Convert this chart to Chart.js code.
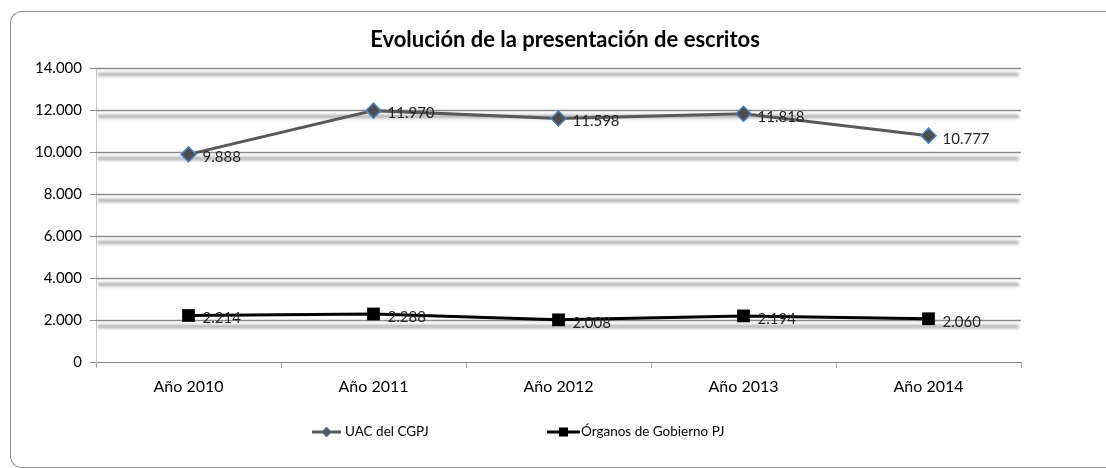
<!DOCTYPE html>
<html>
<head>
<meta charset="utf-8">
<script src="https://cdn.jsdelivr.net/npm/chart.js@4.4.1/dist/chart.umd.min.js"></script>
<style>
  body { margin: 0; background: #fff; }
  #wrap { position: relative; width: 1106px; height: 468px; overflow: hidden; }
  #marco { position: absolute; left: 10px; top: 11px; width: 1200px; height: 455px;
           border: 1px solid #8f8f8f; border-right: none; border-radius: 12px 0 0 12px; }
  canvas { position: absolute; left: 0; top: 0; }
</style>
</head>
<body>
<div id="wrap">
  <div id="marco"></div>
  <canvas id="grafico" width="1106" height="468"></canvas>
</div>
<script>
// datos del grafico
const anios = ['Año 2010', 'Año 2011', 'Año 2012', 'Año 2013', 'Año 2014'];
const uac = [9888, 11970, 11598, 11818, 10777];
const organos = [2214, 2288, 2008, 2194, 2060];
const ticksY = [0, 2000, 4000, 6000, 8000, 10000, 12000, 14000];
const titulo = 'Evolución de la presentación de escritos';

const fuente = 'Lato, "Open Sans", sans-serif';

// 14000 -> "14.000"
function fmt(v) {
  return String(v).replace(/\B(?=(\d{3})+(?!\d))/g, '.');
}

// titulo centrado como en Excel
const tituloPlugin = {
  id: 'tituloPlugin',
  afterDraw(chart) {
    const ctx = chart.ctx;
    ctx.save();
    ctx.font = 'bold 22px ' + fuente;
    ctx.fillStyle = '#000';
    ctx.textAlign = 'center';
    ctx.textBaseline = 'middle';
    ctx.fillText(titulo, 565, 40);
    ctx.restore();
  }
};

// lineas de division con sombra (estilo Excel)
const sombraGrid = {
  id: 'sombraGrid',
  beforeDatasetsDraw(chart) {
    const ctx = chart.ctx;
    const a = chart.chartArea;
    const y = chart.scales.y;
    ticksY.forEach(function (v) {
      if (v === 0) return;
      const py = Math.round(y.getPixelForValue(v)) + 0.5;
      ctx.save();
      ctx.filter = 'blur(1.6px)';
      ctx.strokeStyle = 'rgba(140,140,140,0.7)';
      ctx.lineWidth = 3.5;
      ctx.beginPath();
      ctx.moveTo(a.left + 2, py + 6);
      ctx.lineTo(a.right - 2, py + 6);
      ctx.stroke();
      ctx.restore();
      ctx.save();
      ctx.strokeStyle = '#8a8a8a';
      ctx.lineWidth = 1.5;
      ctx.beginPath();
      ctx.moveTo(a.left, py);
      ctx.lineTo(a.right, py);
      ctx.stroke();
      ctx.restore();
    });
  }
};

// etiquetas de datos a la derecha de cada punto
const etiquetas = {
  id: 'etiquetas',
  afterDatasetsDraw(chart) {
    const ctx = chart.ctx;
    ctx.save();
    ctx.font = '15px ' + fuente;
    ctx.fillStyle = '#262626';
    ctx.textAlign = 'left';
    ctx.textBaseline = 'middle';
    chart.data.datasets.forEach(function (ds, i) {
      chart.getDatasetMeta(i).data.forEach(function (pt, j) {
        ctx.fillText(fmt(ds.data[j]), pt.x + 14, pt.y + 3);
      });
    });
    ctx.restore();
  }
};

// leyenda: linea con marcador en medio
const leyenda = {
  id: 'leyenda',
  afterDraw(chart) {
    const ctx = chart.ctx;
    const ly = 432;
    ctx.save();
    // UAC del CGPJ
    ctx.strokeStyle = '#595959';
    ctx.lineWidth = 3;
    ctx.beginPath(); ctx.moveTo(312, ly); ctx.lineTo(341, ly); ctx.stroke();
    ctx.fillStyle = '#595959';
    ctx.strokeStyle = '#4f81bd';
    ctx.lineWidth = 1;
    ctx.beginPath();
    ctx.moveTo(326.5 - 5, ly); ctx.lineTo(326.5, ly - 5);
    ctx.lineTo(326.5 + 5, ly); ctx.lineTo(326.5, ly + 5);
    ctx.closePath(); ctx.fill(); ctx.stroke();
    // Organos de Gobierno PJ
    ctx.strokeStyle = '#000';
    ctx.lineWidth = 3;
    ctx.beginPath(); ctx.moveTo(547, ly); ctx.lineTo(580, ly); ctx.stroke();
    ctx.fillStyle = '#000';
    ctx.fillRect(563.5 - 4.5, ly - 4.5, 9, 9);

    ctx.font = '13.5px ' + fuente;
    ctx.fillStyle = '#000';
    ctx.textAlign = 'left';
    ctx.textBaseline = 'middle';
    ctx.fillText(chart.data.datasets[0].label, 345, ly);
    ctx.fillText(chart.data.datasets[1].label, 581, ly);
    ctx.restore();
  }
};

new Chart(document.getElementById('grafico'), {
  type: 'line',
  data: {
    labels: anios,
    datasets: [
      {
        label: 'UAC del CGPJ',
        data: uac,
        borderColor: '#595959',
        borderWidth: 3,
        pointStyle: 'rectRot',
        pointRadius: 7.5,
        pointBackgroundColor: '#4d4d4d',
        pointBorderColor: '#4f81bd',
        pointBorderWidth: 1.5,
        tension: 0
      },
      {
        label: 'Órganos de Gobierno PJ',
        data: organos,
        borderColor: '#000000',
        borderWidth: 3,
        pointStyle: 'rect',
        pointRadius: 9,
        pointBackgroundColor: '#000000',
        pointBorderColor: '#000000',
        pointBorderWidth: 0,
        tension: 0
      }
    ]
  },
  options: {
    responsive: false,
    animation: false,
    layout: { padding: { left: 10, right: 85, top: 68, bottom: 66 } },
    plugins: {
      legend: { display: false },
      tooltip: { enabled: false },
      title: { display: false }
    },
    scales: {
      x: {
        offset: true,
        grid: { offset: true, drawOnChartArea: false, tickLength: 6, color: '#a6a6a6' },
        border: { color: '#8a8a8a', width: 1 },
        ticks: { color: '#000', font: { family: fuente, size: 16 }, padding: 9, maxRotation: 0 },
        afterFit: function (s) { s.height = 40; }
      },
      y: {
        min: 0,
        max: 14000,
        grid: { drawOnChartArea: false, tickLength: 6, color: '#8a8a8a' },
        border: { color: '#c8c8c8', width: 1 },
        ticks: {
          stepSize: 2000,
          color: '#000',
          font: { family: fuente, size: 15 },
          padding: 8,
          callback: function (v) { return fmt(v); }
        },
        afterFit: function (s) { s.width = 86; }
      }
    }
  },
  plugins: [sombraGrid, etiquetas, leyenda, tituloPlugin]
});
</script>
</body>
</html>
